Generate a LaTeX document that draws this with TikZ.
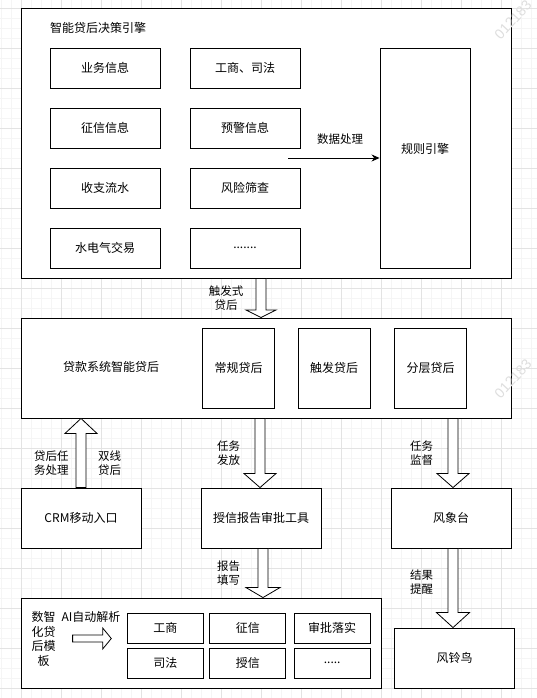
\documentclass[tikz,border=0pt]{standalone}
\usepackage{fontspec}
\setmainfont{Noto Sans CJK SC}
\newfontfamily\wmfont{Liberation Sans}
\usetikzlibrary{calc,arrows.meta}

% hollow block arrow: x, from, to, head length, head half width
\newcommand{\flexv}[5]{%
  \draw[flexarr] let \p1=(#1,0 |- #2), \p2=(#1,0 |- #3), \p3=($(\p2)!#4pt!(\p1)$) in
    (\x1-5pt,\y1) -- (\x1-5pt,\y3) -- (\x1-#5pt,\y3) -- (\x2,\y2) -- (\x1+#5pt,\y3) -- (\x1+5pt,\y3) -- (\x1+5pt,\y1) -- cycle;}

\begin{document}
\begin{tikzpicture}[x=1pt, y=-1pt,
  box/.style={draw, fill=white, line width=0.9pt, inner sep=0pt, font=\fontsize{12}{14}\selectfont},
  lbl/.style={inner sep=0pt, align=center, font=\fontsize{11.5}{14}\selectfont},
  flexarr/.style={draw, fill=white, line width=0.8pt, line join=miter},
  gridminor/.style={black!4, line width=0.6pt},
  gridmajor/.style={black!11, line width=0.6pt},
  wmark/.style={black!13, rotate=47, font=\wmfont\fontsize{14}{14}\selectfont}]
\useasboundingbox (0,0) rectangle (537,698);
\fill[white] (0,0) rectangle (537,698);
% background grid
\foreach \gx in {1.5,11.5,...,531.5} \draw[gridminor] (\gx,0) -- (\gx,698);
\foreach \gy in {8,18,...,698} \draw[gridminor] (0,\gy) -- (537,\gy);
\foreach \gx in {21.5,61.5,...,501.5} \draw[gridmajor] (\gx,0) -- (\gx,698);
\foreach \gy in {8,48,...,688} \draw[gridmajor] (0,\gy) -- (537,\gy);

% decision engine
\node[box, minimum width=490pt, minimum height=270pt] (engine) at (266,143) {};
\node[lbl, anchor=west, font=\fontsize{12}{14}\selectfont] (title) at (50,28) {智能贷后决策引擎};
\node[box, minimum width=110pt, minimum height=40pt] (biz) at (105,68) {业务信息};
\node[box, minimum width=110pt, minimum height=40pt] (credit) at (105,128) {征信信息};
\node[box, minimum width=110pt, minimum height=40pt] (flow) at (105,188) {收支流水};
\node[box, minimum width=110pt, minimum height=40pt] (util) at (105,248) {水电气交易};
\node[box, minimum width=110pt, minimum height=40pt] (court) at (245,68) {工商、司法};
\node[box, minimum width=110pt, minimum height=40pt] (alert) at (245,128) {预警信息};
\node[box, minimum width=110pt, minimum height=40pt] (risk) at (245,188) {风险筛查};
\node[box, minimum width=110pt, minimum height=40pt] (more) at (245,248) {.......};
\node[box, minimum width=90pt, minimum height=220pt,
  label={[font=\fontsize{12}{14}\selectfont, yshift=9pt]center:规则引擎}] (rules) at (425,158) {};
\coordinate (dp) at (288,158);
\draw[line width=0.8pt, -{Stealth[length=8pt, width=7pt]}] (dp) -- (rules.west);
\node[lbl] (dplbl) at (340,139) {数据处理};

% loan system
\node[box, minimum width=490pt, minimum height=100pt] (loan) at (266,368) {};
\node[lbl, font=\fontsize{12}{14}\selectfont] (loantxt) at (111,367) {贷款系统智能贷后};
\node[box, minimum width=72pt, minimum height=80pt] (normal) at (238.5,368) {常规贷后};
\node[box, minimum width=72pt, minimum height=80pt] (trigger) at (334,368) {触发贷后};
\node[box, minimum width=72pt, minimum height=80pt] (layer) at (430.5,368) {分层贷后};

% tools
\node[box, minimum width=120pt, minimum height=60pt] (crm) at (81,518) {CRM移动入口};
\node[box, minimum width=120pt, minimum height=60pt] (tool) at (261,518) {授信报告审批工具};
\node[box, minimum width=120pt, minimum height=60pt] (fxt) at (451,518) {风象台};
\node[box, minimum width=120pt, minimum height=60pt] (fld) at (454.5,658) {风铃鸟};

% template
\node[box, minimum width=360pt, minimum height=90pt] (tpl) at (201,643) {};
\node[lbl, font=\fontsize{12}{14.7}\selectfont] (tpltxt) at (43.5,639) {数智\\化贷\\后模\\板};
\node[lbl, font=\fontsize{12}{14}\selectfont] (aitxt) at (91,617) {AI自动解析};
\draw[flexarr] (72.6,635) -- (102.7,635) -- (102.7,628) -- (111.3,638.5) -- (102.7,649) -- (102.7,642) -- (72.6,642) -- cycle;
\node[box, minimum width=76pt, minimum height=30pt] (tgs) at (165.4,628) {工商};
\node[box, minimum width=76pt, minimum height=30pt] (tzx) at (247.8,628) {征信};
\node[box, minimum width=76pt, minimum height=30pt] (tsp) at (332.2,628) {审批落实};
\node[box, minimum width=76pt, minimum height=30pt] (tsf) at (165.4,663) {司法};
\node[box, minimum width=76pt, minimum height=30pt] (tsx) at (247.8,663) {授信};
\node[box, minimum width=76pt, minimum height=30pt] (tmore) at (332.2,663) {.....};

% block arrows
\flexv{261}{engine.south}{loan.north}{7.6}{15}
\flexv{81}{crm.north}{loan.south}{15}{16}
\flexv{260}{loan.south}{tool.north}{14}{16}
\flexv{453}{loan.south}{fxt.north}{14}{16}
\flexv{263}{tool.south}{tpl.north}{10}{17}
\flexv{453}{fxt.south}{fld.north}{15}{16.5}
\node[lbl] (l1) at (226,298) {触发式\\贷后};
\node[lbl] (l2) at (51.4,463) {贷后任\\务处理};
\node[lbl] (l3) at (109.6,463) {双线\\贷后};
\node[lbl] (l4) at (228.6,453) {任务\\发放};
\node[lbl] (l5) at (421.6,453) {任务\\监督};
\node[lbl] (l6) at (228.6,573) {报告\\填写};
\node[lbl] (l7) at (421.6,582.5) {结果\\提醒};

% watermark
\node[wmark] (wm1) at (513,20) {012183};
\node[wmark] (wm2) at (513,379) {012183};
\end{tikzpicture}
\end{document}
